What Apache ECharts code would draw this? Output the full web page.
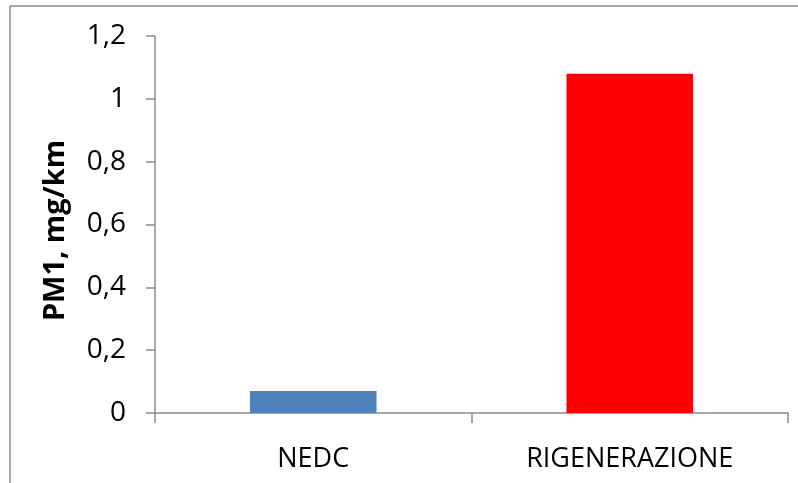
<!DOCTYPE html>
<html>
<head>
<meta charset="utf-8">
<script src="https://cdn.jsdelivr.net/npm/echarts@6/dist/echarts.min.js"></script>
<style>
  html, body { margin: 0; padding: 0; background: #fff; }
  #chart { width: 798px; height: 483px; }
</style>
</head>
<body>
<div id="chart"></div>
<script>
// PM1 emissions per test cycle
const categories = ['NEDC', 'RIGENERAZIONE'];
const pm1Values = [0.07, 1.08];
const barColors = ['#4f81bd', '#ff0000'];
const yTicks = { min: 0, max: 1.2, interval: 0.2 };

const axisGrey = '#8c8c8c';
const fontFamily = '"Open Sans", "Liberation Sans", sans-serif';

const chart = echarts.init(document.getElementById('chart'), null, { renderer: 'canvas' });

chart.setOption({
  animation: false,
  backgroundColor: '#ffffff',
  graphic: [{
    type: 'rect',
    silent: true,
    shape: { x: 10, y: 6, width: 820, height: 520 },
    style: { fill: 'none', stroke: axisGrey, lineWidth: 1.5 }
  }],
  grid: { left: 155, right: 10, top: 36, bottom: 70, containLabel: false },
  xAxis: {
    type: 'category',
    data: categories,
    axisLine: { show: true, lineStyle: { color: axisGrey, width: 1.5 } },
    axisTick: { show: true, length: 10, alignWithLabel: false, lineStyle: { color: axisGrey, width: 1.5 } },
    axisLabel: { color: '#000', fontSize: 27, fontFamily: fontFamily, margin: 33 },
    splitLine: { show: false }
  },
  yAxis: {
    type: 'value',
    min: yTicks.min,
    max: yTicks.max,
    interval: yTicks.interval,
    name: 'PM1, mg/km',
    nameLocation: 'middle',
    nameGap: 85,
    nameTextStyle: {
      color: '#000', fontSize: 29, fontWeight: 'bold', fontFamily: fontFamily,
      padding: [0, 12, 0, 0]
    },
    axisLine: { show: true, lineStyle: { color: axisGrey, width: 1.5 } },
    axisTick: { show: true, inside: false, length: 9, lineStyle: { color: axisGrey, width: 1.5 } },
    axisLabel: {
      color: '#000', fontSize: 28, fontFamily: fontFamily, margin: 29,
      formatter: v => (Math.round(v * 10) / 10).toString().replace('.', ',')
    },
    splitLine: { show: false }
  },
  series: [{
    type: 'bar',
    barCategoryGap: '60%',
    data: pm1Values.map((v, i) => ({ value: v, itemStyle: { color: barColors[i] } }))
  }]
});
</script>
</body>
</html>
